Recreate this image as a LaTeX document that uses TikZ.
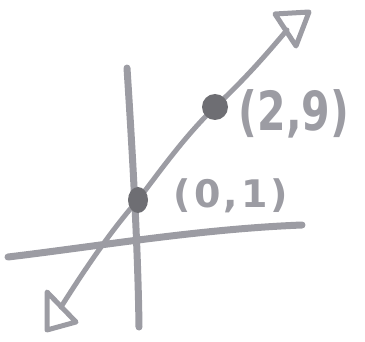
\documentclass[tikz,border=0pt]{standalone}
\usepackage{fontspec}
\newfontfamily\handA{DejaVu Sans Bold}
\newfontfamily\handB[LetterSpace=8]{DejaVu Sans Bold}
\definecolor{pen}{HTML}{9C9CA3}
\definecolor{dotc}{HTML}{6E6E73}
\begin{document}
\begin{tikzpicture}[x=1pt,y=1pt,
  axis/.style={pen,line width=7pt,line cap=round},
  graphline/.style={pen,line width=5pt,line cap=round},
  headtri/.style={pen,line width=5pt,line join=round},
  ptdot/.style={fill=dotc,draw=none},
  lbl/.style={text=pen,inner sep=0pt}]
\useasboundingbox (0,0) rectangle (365,341);
% axes
\coordinate (vtop) at (127,273);
\coordinate (vbot) at (139,14);
\coordinate (hl) at (8,84);
\coordinate (hr) at (302,116);
\draw[axis] (vtop) .. controls (133,180) and (138,90) .. (vbot);
\draw[axis] (hl) .. controls (100,95) and (200,112) .. (hr);
% points
\coordinate (p01) at (138,141);
\coordinate (p29) at (215,234);
\coordinate (lowend) at (61,34);
\coordinate (upend) at (287,311);
\draw[graphline] (lowend) .. controls (90,80) and (115,115) .. (p01)
  .. controls (160,170) and (185,205) .. (p29)
  .. controls (245,262) and (265,285) .. (upend);
% arrowheads
\draw[headtri] (275,327) -- (309,329) -- (296,295) -- cycle;
\draw[headtri] (47,49) -- (47,11) -- (76,19) -- cycle;
% dots
\fill[ptdot] (p01) ellipse [x radius=10, y radius=13];
\fill[ptdot] (p29) circle [radius=13];
% labels
\node[lbl,font=\handA\fontsize{54}{54}\selectfont,xscale=0.76] (l29) at (294,227) {(2,9)};
\node[lbl,font=\handB\fontsize{38}{38}\selectfont] (l01) at (231,145) {(0,1)};
\end{tikzpicture}
\end{document}
